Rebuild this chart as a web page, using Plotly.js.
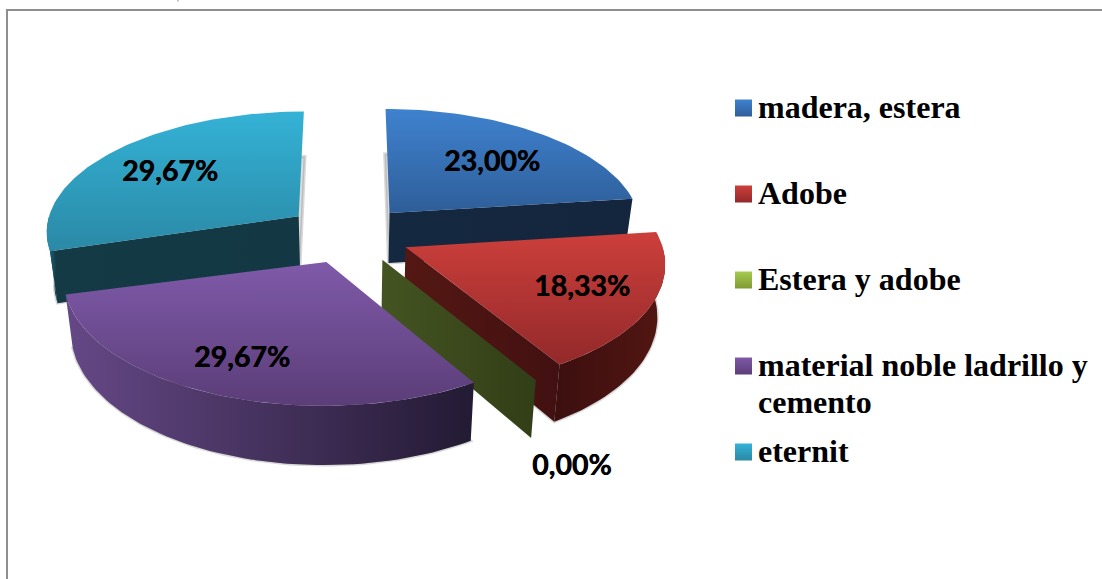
<!DOCTYPE html>
<html>
<head>
<meta charset="utf-8">
<script src="https://cdn.plot.ly/plotly-3.0.1.min.js"></script>
<style>html,body{margin:0;padding:0;background:#fff}#chart{width:1102px;height:579px}</style>
</head>
<body>
<div id="chart"></div>
<script>
// ---- data ----
var categories = ["madera, estera", "Adobe", "Estera y adobe", "material noble ladrillo y<br>cemento", "eternit"];
var values = [23.00, 18.33, 0.00, 29.67, 29.67];

// ---- styles ----
var topColors  = [["#2e5e99","#3f82cf"],["#93292a","#cc3f3b"],["#7f9a33","#a6cb50"],["#5b3d78","#7f5aa9"],["#2a89a6","#34b2d6"]];
var wallColors = [["#14283f","#14263d"],["#541813","#421011"],["#445421","#323e17"],["#2a1f3c","#2a1f3c"],["#133a45","#133844"]];
var arcColors  = [["#14283f","#14263d"],["#3c0f0f","#521612"],["#445421","#323e17"],["#654886","#231a33"],["#1f6a80","#133844"]];
var swatchColors = [["#3f82cf","#2e5e99"],["#cc3f3b","#93292a"],["#a6cb50","#7f9a33"],["#7f5aa9","#5b3d78"],["#34b2d6","#2a89a6"]];
var drawOrder = [4, 0, 1, 2, 3];
var labelPos = [[492,160],[582,285],[572,464],[242,356],[170,170]];
var legendY = [108,194,280,366,452];
var pulls = [61, 61, 61, 61, 65];
var startNudge = [0, 0, 0, 0, -2.5];

// ---- projection parameters of the tilted pie (pixels of the frame) ----
var cx = 350, cy = 234.4, R = 254, tilt = 0.475, persp = 0.00045, depth = 51, shrink = 0.975;

function rad(d){ return d * Math.PI / 180; }
function project(theta, r, mid, pull, low){
  var X = pull * Math.sin(rad(mid)) + r * Math.sin(rad(theta));
  var Y = pull * Math.cos(rad(mid)) + r * Math.cos(rad(theta));
  var s = 1 / (1 + persp * Y);
  var px = X * s, py = -tilt * Y * s;
  if (low) return [cx + px * shrink, cy + py + depth * s];
  return [cx + px, cy + py];
}
function arcAngles(a, b){
  var out = [], n = Math.max(1, Math.ceil((b - a) / 1.5));
  for (var i = 0; i <= n; i++) out.push(a + (b - a) * i / n);
  return out;
}
function poly(pts, opts){
  var t = {
    x: pts.map(function(p){return p[0];}), y: pts.map(function(p){return p[1];}),
    type: "scatter", mode: "lines", fill: "toself", showlegend: false, hoverinfo: "skip",
    line: opts.line || {width: 0, color: "rgba(0,0,0,0)"}
  };
  if (opts.fillcolor) t.fillcolor = opts.fillcolor;
  if (opts.grad) t.fillgradient = {type: opts.type, colorscale: [[0, opts.grad[0]], [1, opts.grad[1]]]};
  return t;
}

// the printed percentages add up to slightly over 100: the last slice stops at the full turn
var spans = [], acc = 0;
values.forEach(function(v, i){ var a = acc * 3.6; acc += v; spans.push([a + startNudge[i], Math.min(acc * 3.6, 360)]); });

var traces = [];
drawOrder.forEach(function(i){
  var a = spans[i][0], b = spans[i][1], mid = (a + b) / 2, pull = pulls[i];
  var angles = arcAngles(a, b);
  var apexT = project(a, 0, mid, pull, false), apexB = project(a, 0, mid, pull, true);
  var topArc = angles.map(function(t){return project(t, R, mid, pull, false);});
  var lowArc = angles.map(function(t){return project(t, R, mid, pull, true);});
  var isSlice = values[i] > 0;
  if (isSlice) {
    traces.push(poly([apexB].concat(lowArc).concat([apexB]), {fillcolor: "rgba(90,90,90,0.22)", line: {width: 3, color: "rgba(80,80,80,0.22)"}}));
  }
  // a cut wall is drawn only when it faces the viewer
  var wallA = [apexT, topArc[0], lowArc[0], apexB, apexT];
  var wallB = [apexT, topArc[topArc.length-1], lowArc[lowArc.length-1], apexB, apexT];
  if (!isSlice || Math.sin(rad(a)) < -0.001) traces.push(poly(wallA, {grad: wallColors[i], type: "horizontal"}));
  if (isSlice && Math.sin(rad(b)) > 0.001) traces.push(poly(wallB, {grad: wallColors[i], type: "horizontal"}));
  if (isSlice) {
    var f1 = Math.max(a, 90), f2 = Math.min(b, 270);
    if (f2 > f1) {
      var fa = arcAngles(f1, f2);
      var upper = fa.map(function(t){return project(t, R, mid, pull, false);});
      var lower = fa.map(function(t){return project(t, R, mid, pull, true);}).reverse();
      traces.push(poly(upper.concat(lower).concat([upper[0]]), {grad: arcColors[i], type: "horizontal"}));
    }
    traces.push(poly([apexT].concat(topArc).concat([apexT]), {grad: topColors[i], type: "vertical"}));
  }
});

categories.forEach(function(c, i){
  traces.push({
    x: [743.5], y: [legendY[i]], type: "scatter", mode: "markers", name: c.replace("<br>", " "),
    showlegend: false, hoverinfo: "skip",
    marker: {symbol: "square", size: 17, color: swatchColors[i][0], gradient: {type: "vertical", color: swatchColors[i][1]}, line: {width: 0}}
  });
});

function fmt(v){ return v.toFixed(2).replace(".", ",") + "%"; }
var annotations = values.map(function(v, i){
  return {x: labelPos[i][0], y: labelPos[i][1], xref: "x", yref: "y", text: "<b>" + fmt(v) + "</b>", showarrow: false,
          xanchor: "center", yanchor: "middle", font: {family: "Lato, Carlito, sans-serif", size: 28.5, color: "#000", shadow: "0.5px 0 0 #000"}};
});
categories.forEach(function(c, i){
  c.split("<br>").forEach(function(line, k){
    annotations.push({x: 756, y: legendY[i] - 1 + 37 * k, xref: "x", yref: "y", text: "<b>" + line + "</b>", showarrow: false,
          xanchor: "left", yanchor: "middle", align: "left", font: {family: "Liberation Serif, serif", size: 32, color: "#000"}});
  });
});

var layout = {
  width: 1102, height: 579, margin: {l:0, r:0, t:0, b:0}, paper_bgcolor: "#fff", plot_bgcolor: "#fff", showlegend: false,
  xaxis: {range: [0, 1102], visible: false, fixedrange: true},
  yaxis: {range: [579, 0], visible: false, fixedrange: true},
  shapes: [
    {type: "line", xref: "x", yref: "y", x0: 7, x1: 7, y0: 10, y1: 579, line: {color: "#8f8f8f", width: 2}},
    {type: "line", xref: "x", yref: "y", x0: 6, x1: 1102, y0: 10, y1: 10, line: {color: "#8f8f8f", width: 2}},
    {type: "line", xref: "x", yref: "y", x0: 178, x1: 178, y0: 0, y1: 1.5, line: {color: "#b0b0b0", width: 1.5}}
  ],
  annotations: annotations
};
Plotly.newPlot("chart", traces, layout, {displayModeBar: false, staticPlot: true});
</script>
</body>
</html>
